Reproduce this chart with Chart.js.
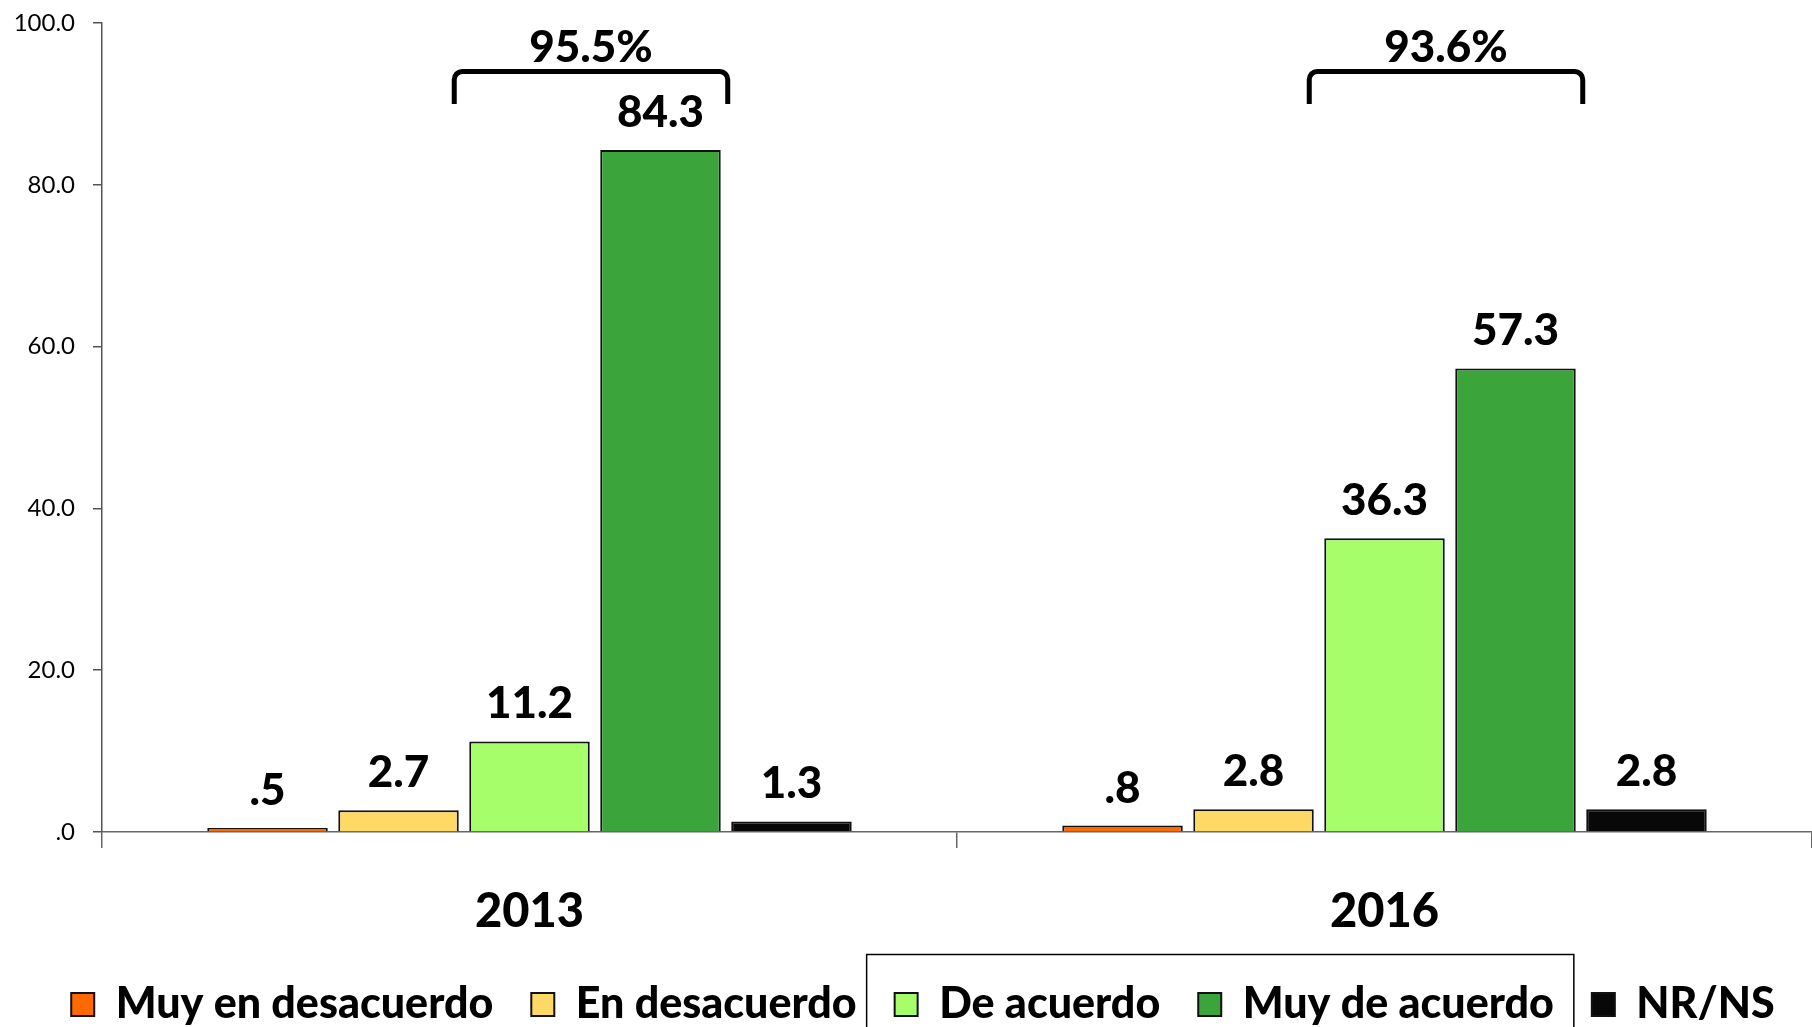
<!DOCTYPE html>
<html>
<head>
<meta charset="utf-8">
<script src="https://cdn.jsdelivr.net/npm/chart.js@4/dist/chart.umd.min.js"></script>
<style>
  html, body { margin: 0; padding: 0; background: #fff; }
  #wrap { width: 1812px; height: 1027px; }
</style>
</head>
<body>
<div id="wrap"><canvas id="ChartAcuerdo"></canvas></div>
<script>
const Years = ['2013', '2016']
const SeriesNames = ['Muy en desacuerdo', 'En desacuerdo', 'De acuerdo', 'Muy de acuerdo', 'NR/NS']
const MuyEnDesacuerdo = [0.5, 0.8]
const EnDesacuerdo = [2.7, 2.8]
const DeAcuerdo = [11.2, 36.3]
const MuyDeAcuerdo = [84.3, 57.3]
const NrNs = [1.3, 2.8]
const AgreeTotals = [95.5, 93.6]
const SeriesColors = ['#ff6a00', '#ffd966', '#a6ff6a', '#3ba53b', '#080808']

const FontName = 'Lato'
const PlotBottom = 832
const LegendDrop = 9
const LegendShift = 17

function Fmt(v) {
    return v.toFixed(1).replace(/^0/, '')
}

// numbers above each bar
const BarLabels = {
    id: 'barLabels',
    afterDatasetsDraw(chart) {
        let ctx = chart.ctx
        ctx.save()
        ctx.font = '900 44px ' + FontName
        ctx.fillStyle = '#000'
        ctx.textAlign = 'center'
        ctx.textBaseline = 'alphabetic'
        chart.data.datasets.forEach((ds, i) => {
            let meta = chart.getDatasetMeta(i)
            meta.data.forEach((bar, j) => {
                ctx.fillText(Fmt(ds.data[j]), bar.x, bar.y - 23)
            })
        })
        ctx.restore()
    }
}

// bracket over "De acuerdo" + "Muy de acuerdo"
const Brackets = {
    id: 'brackets',
    afterDatasetsDraw(chart) {
        let ctx = chart.ctx
        let y = chart.scales.y
        let m3 = chart.getDatasetMeta(2)
        let m4 = chart.getDatasetMeta(3)
        ctx.save()
        ctx.strokeStyle = '#000'
        ctx.lineWidth = 5
        ctx.lineJoin = 'round'
        ctx.font = '900 44px ' + FontName
        ctx.fillStyle = '#000'
        ctx.textAlign = 'center'
        ctx.textBaseline = 'alphabetic'
        for (let j = 0; j < Years.length; j++) {
            let b3 = m3.data[j], b4 = m4.data[j]
            let left = b3.x - b3.width / 2 - 15
            let right = b4.x + b4.width / 2 + 7
            let top = y.getPixelForValue(94)
            let bottom = y.getPixelForValue(90)
            ctx.beginPath()
            ctx.moveTo(left, bottom)
            ctx.arcTo(left, top, left + 10, top, 8)
            ctx.arcTo(right, top, right, top + 10, 8)
            ctx.lineTo(right, bottom)
            ctx.stroke()
            ctx.fillText(AgreeTotals[j].toFixed(1) + '%', (left + right) / 2, top - 10)
        }
        ctx.restore()
    }
}

// legend sits a little right of centre in the original
const NudgeLegend = {
    id: 'nudgeLegend',
    afterLayout(chart) {
        let lg = chart.legend
        lg.left += LegendShift
        lg.right += LegendShift
    }
}

// thin frame drawn round the two "acuerdo" legend items
const LegendFrame = {
    id: 'legendFrame',
    afterDraw(chart) {
        let boxes = chart.legend.legendHitBoxes
        if (!boxes || boxes.length < 4) return
        let ctx = chart.ctx
        let mid = boxes[2].top + boxes[2].height / 2
        let left = boxes[2].left - 28
        let right = boxes[3].left + boxes[3].width + 20
        ctx.save()
        ctx.strokeStyle = '#000'
        ctx.lineWidth = 1.5
        ctx.beginPath()
        ctx.moveTo(left, chart.height + 5)
        ctx.lineTo(left, mid - 50)
        ctx.lineTo(right, mid - 50)
        ctx.lineTo(right, chart.height + 5)
        ctx.stroke()
        ctx.restore()
    }
}

const AllSeries = [MuyEnDesacuerdo, EnDesacuerdo, DeAcuerdo, MuyDeAcuerdo, NrNs]

new Chart(document.getElementById('ChartAcuerdo'), {
    type: 'bar',
    data: {
        labels: Years,
        datasets: AllSeries.map((vals, i) => ({
            label: SeriesNames[i],
            data: vals,
            backgroundColor: SeriesColors[i],
            borderColor: '#111',
            borderWidth: 2,
            categoryPercentage: 0.766,
            barPercentage: 0.92
        }))
    },
    plugins: [BarLabels, Brackets, NudgeLegend, LegendFrame],
    options: {
        responsive: true,
        maintainAspectRatio: false,
        animation: false,
        layout: { padding: { top: 23, right: 0, left: 0, bottom: -LegendDrop } },
        plugins: {
            legend: {
                position: 'bottom',
                labels: {
                    boxWidth: 23,
                    boxHeight: 23,
                    padding: 38,
                    color: '#000',
                    font: { family: FontName, weight: '900', size: 43 }
                }
            },
            tooltip: { enabled: false }
        },
        scales: {
            x: {
                offset: true,
                afterFit(s) { s.height = s.chart.height + LegendDrop - PlotBottom - s.chart.legend.height },
                grid: { offset: true, drawOnChartArea: false, tickLength: 16, color: '#666', lineWidth: 1.5 },
                border: { color: '#666', width: 1.5 },
                ticks: {
                    color: '#000',
                    padding: 36,
                    font: { family: FontName, weight: '900', size: 47 }
                }
            },
            y: {
                min: 0,
                max: 100,
                afterFit(s) { s.width = 102; s.paddingTop = 0 },
                grid: { drawOnChartArea: false, tickLength: 9, color: '#555', lineWidth: 1.5 },
                border: { color: '#555', width: 1.5 },
                ticks: {
                    stepSize: 20,
                    padding: 18,
                    color: '#000',
                    font: { family: FontName, size: 24 },
                    callback: v => Fmt(v)
                }
            }
        }
    }
})
</script>
</body>
</html>
